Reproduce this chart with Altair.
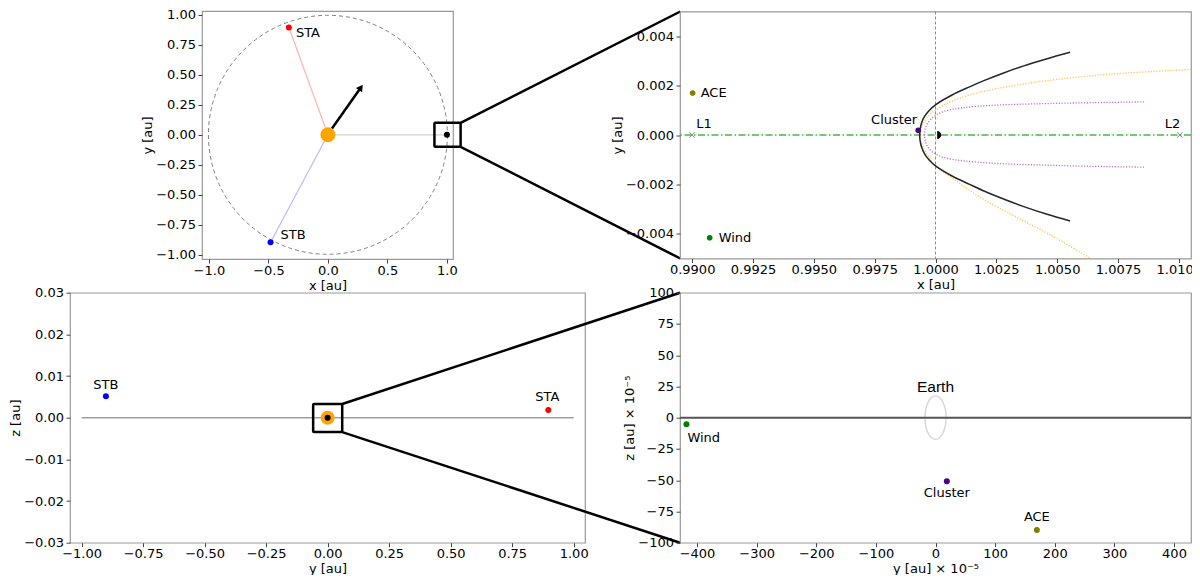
import altair as alt
import pandas as pd

MINUS = "\u2212"
FONT = "DejaVu Sans"

# ---------------- data: top-left (x-y plane, au) ----------------
sc_names = ["STA", "STB"]
sc_x = [-0.328, -0.482]
sc_y = [0.895, -0.897]
sc_colors = ["#ff0000", "#0000ff"]
sun_pos = [0.0, 0.0]
earth_pos = [1.0, 0.0]
line_colors = ["#ffb4b4", "#b9b9ff", "#d2d2d2"]
arrow_start = [0.034, 0.053]
arrow_end = [0.277, 0.395]
tl_box_x = [0.895, 1.115]
tl_box_y = [-0.100, 0.100]

# ---------------- data: top-right (near-Earth, x-y) ----------------
near_names = ["ACE", "Wind", "Cluster"]
near_x = [0.99002, 0.99072, 0.99929]
near_y = [0.00170, -0.00416, 0.00019]
near_colors = ["#808000", "#008000", "#4b0082"]
lag_names = ["L1", "L2"]
lag_x = [0.99000, 1.01004]
lag_y = [0.0, 0.0]
earth_tr = [1.00007, 0.0]

black_x = [1.00553, 1.00455, 1.00360, 1.00280, 1.00204, 1.00140, 1.00068, 1.00000, 0.99975, 0.99955,
           0.99943, 0.99937, 0.99935,
           0.99937, 0.99943, 0.99955, 0.99975, 1.00000, 1.00068, 1.00140, 1.00204, 1.00280, 1.00360,
           1.00455, 1.00553]
black_y = [0.00335, 0.00308, 0.00279, 0.00251, 0.00222, 0.00195, 0.00162, 0.00122, 0.00100, 0.00075,
           0.00050, 0.00025, 0.0,
           -0.00025, -0.00050, -0.00076, -0.00102, -0.00125, -0.00166, -0.00200, -0.00229, -0.00259, -0.00289,
           -0.00320, -0.00348]
orange_x = [1.01050, 1.00800, 1.00600, 1.00400, 1.00200, 1.00070, 1.00000, 0.99965, 0.99948, 0.99940, 0.99937,
            0.99940, 0.99948, 0.99965, 1.00000, 1.00088, 1.00200, 1.00360, 1.00500, 1.00639, 1.00680]
orange_y = [0.00265, 0.00252, 0.00236, 0.00212, 0.00177, 0.00138, 0.00100, 0.00070, 0.00045, 0.00022, 0.0,
            -0.00024, -0.00048, -0.00078, -0.00124, -0.00188, -0.00262, -0.00346, -0.00420, -0.00500, -0.00520]
purple_x = [1.00857, 1.00650, 1.00450, 1.00250, 1.00110, 1.00030, 0.99990, 0.99968, 0.99958, 0.99955,
            0.99958, 0.99968, 0.99990, 1.00030, 1.00110, 1.00250, 1.00450, 1.00650, 1.00857]
purple_y = [0.00134, 0.00131, 0.00127, 0.00121, 0.00110, 0.00094, 0.00072, 0.00048, 0.00024, 0.0,
            -0.00024, -0.00048, -0.00070, -0.00090, -0.00104, -0.00115, -0.00122, -0.00127, -0.00130]

# ---------------- data: bottom-left (y-z plane, au) ----------------
bl_sc_names = ["STB", "STA"]
bl_sc_y = [-0.901, 0.897]
bl_sc_z = [0.00514, 0.00185]
bl_sc_colors = ["#0000ff", "#ff0000"]
ecliptic_y = [-1.0, 1.0]
bl_box_y = [-0.0588, 0.0593]
bl_box_z = [-0.00346, 0.00329]

# ---------------- data: bottom-right (y-z, 1e-5 au) ----------------
br_names = ["Wind", "Cluster", "ACE"]
br_y = [-417.7, 19.0, 170.0]
br_z = [-5.3, -50.9, -89.8]
br_colors = ["#008000", "#4b0082", "#808000"]


def lab(fmt, minus=True):
    if minus:
        return f"replace(format(datum.value, '{fmt}'), '-', '{MINUS}')"
    return f"format(datum.value, '{fmt}')"


def ax(title, values, expr):
    return alt.Axis(title=title, values=values, labelExpr=expr)


def text_layer(df, xf, yf, X, Y, text, align, dx, dy, size=13, font=FONT):
    return alt.Chart(df).mark_text(align=align, baseline="middle", dx=dx, dy=dy,
                                   fontSize=size, font=font, color="black").encode(
        x=X(xf), y=Y(yf), text=alt.value(text))


# ===================== TOP-LEFT =====================
sx1 = alt.Scale(domain=[-1.058, 1.051], nice=False, zero=False)
sy1 = alt.Scale(domain=[-1.036, 1.033], nice=False, zero=False)
ax1x = ax("x [au]", [-1, -0.5, 0, 0.5, 1], lab(".1f"))
ax1y = ax("y [au]", [-1, -0.75, -0.5, -0.25, 0, 0.25, 0.5, 0.75, 1], lab(".2f"))
X1 = lambda f: alt.X(f"{f}:Q", scale=sx1, axis=ax1x)
Y1 = lambda f: alt.Y(f"{f}:Q", scale=sy1, axis=ax1y)

sun_df = pd.DataFrame({"x": [sun_pos[0]], "y": [sun_pos[1]]})
earth_df = pd.DataFrame({"x": [earth_pos[0]], "y": [earth_pos[1]]})
sc_df = pd.DataFrame({"name": sc_names, "x": sc_x, "y": sc_y, "c": sc_colors})
rays_df = pd.DataFrame({"x0": [sun_pos[0]] * 3, "y0": [sun_pos[1]] * 3,
                        "x": sc_x + [earth_pos[0]], "y": sc_y + [earth_pos[1]],
                        "c": line_colors})
arrow_df = pd.DataFrame({"x0": [arrow_start[0]], "y0": [arrow_start[1]],
                         "x": [arrow_end[0]], "y": [arrow_end[1]]})
box1_df = pd.DataFrame({"x0": [tl_box_x[0]], "x1": [tl_box_x[1]],
                        "y0": [tl_box_y[0]], "y1": [tl_box_y[1]]})
conn1_df = pd.DataFrame({"x": [tl_box_x[1]], "yt": [tl_box_y[1]], "yb": [tl_box_y[0]]})

tl_layers = [
    alt.Chart(sun_df).mark_point(shape="circle", size=57121, filled=False, color="#808080",
                                 strokeWidth=1, strokeDash=[4, 3], opacity=1).encode(x=X1("x"), y=Y1("y")),
    alt.Chart(rays_df).mark_rule(strokeWidth=1.2).encode(
        x=X1("x0"), y=Y1("y0"), x2=alt.X2("x:Q"), y2=alt.Y2("y:Q"), color=alt.Color("c:N", scale=None)),
    alt.Chart(arrow_df).mark_rule(strokeWidth=2.5, color="black").encode(
        x=X1("x0"), y=Y1("y0"), x2=alt.X2("x:Q"), y2=alt.Y2("y:Q")),
    alt.Chart(arrow_df).mark_point(shape="triangle-up", angle=35, filled=True, size=55,
                                   color="black", opacity=1).encode(x=X1("x"), y=Y1("y")),
    alt.Chart(sun_df).mark_circle(size=225, color="#ffa500", opacity=1).encode(x=X1("x"), y=Y1("y")),
    alt.Chart(earth_df).mark_circle(size=36, color="black", opacity=1).encode(x=X1("x"), y=Y1("y")),
    alt.Chart(sc_df).mark_circle(size=36, opacity=1).encode(
        x=X1("x"), y=Y1("y"), color=alt.Color("c:N", scale=None)),
    text_layer(sc_df.iloc[[0]], "x", "y", X1, Y1, sc_names[0], "left", 7, 5),
    text_layer(sc_df.iloc[[1]], "x", "y", X1, Y1, sc_names[1], "left", 10, -7),
    alt.Chart(box1_df).mark_rect(fillOpacity=0, stroke="black", strokeWidth=2.5, cornerRadius=1).encode(
        x=X1("x0"), x2=alt.X2("x1:Q"), y=Y1("y0"), y2=alt.Y2("y1:Q")),
    alt.Chart(conn1_df).mark_rule(strokeWidth=2.5, color="black").encode(
        x=X1("x"), y=Y1("yt"), x2=alt.value(478.3), y2=alt.value(0.5)),
    alt.Chart(conn1_df).mark_rule(strokeWidth=2.5, color="black").encode(
        x=X1("x"), y=Y1("yb"), x2=alt.value(478.3), y2=alt.value(247.5)),
]
tl = alt.layer(*tl_layers).properties(width=251, height=248)

# ===================== TOP-RIGHT =====================
W_RIGHT = 511
sx2 = alt.Scale(domain=[0.9895, 1.0105], nice=False, zero=False)
sy2 = alt.Scale(domain=[-0.005, 0.005], nice=False, zero=False)
ax2x = ax("x [au]", [0.99, 0.9925, 0.995, 0.9975, 1.0, 1.0025, 1.005, 1.0075, 1.01], lab(".4f"))
ax2y = ax("y [au]", [-0.004, -0.002, 0, 0.002, 0.004], lab(".3f"))
X2 = lambda f: alt.X(f"{f}:Q", scale=sx2, axis=ax2x)
Y2 = lambda f: alt.Y(f"{f}:Q", scale=sy2, axis=ax2y)


def curve_df(xs, ys):
    return pd.DataFrame({"x": xs, "y": ys, "i": list(range(len(xs)))})


near_df = pd.DataFrame({"name": near_names, "x": near_x, "y": near_y, "c": near_colors})
lag_df = pd.DataFrame({"name": lag_names, "x": lag_x, "y": lag_y})
vline_df = pd.DataFrame({"x": [earth_pos[0]]})
hline_df = pd.DataFrame({"y": [0.0]})
earth2_df = pd.DataFrame({"x": [earth_tr[0]], "y": [earth_tr[1]]})

tr_layers = [
    alt.Chart(vline_df).mark_rule(color="#8c8c8c", strokeWidth=1, strokeDash=[3, 2]).encode(x=X2("x")),
    alt.Chart(hline_df).mark_rule(color="#44bb44", strokeWidth=1.4, strokeDash=[7, 2.5, 1.5, 2.5]).encode(y=Y2("y")),
    alt.Chart(curve_df(orange_x, orange_y)).mark_line(color="#ffb830", strokeWidth=1.3, strokeDash=[1.2, 1.6],
                                                      opacity=0.85, clip=True, interpolate="catmull-rom").encode(
        x=X2("x"), y=Y2("y"), order="i:Q"),
    alt.Chart(curve_df(purple_x, purple_y)).mark_line(color="#c070c8", strokeWidth=1.3, strokeDash=[1.2, 1.6],
                                                      clip=True, interpolate="catmull-rom").encode(
        x=X2("x"), y=Y2("y"), order="i:Q"),
    alt.Chart(curve_df(black_x, black_y)).mark_line(color="#262626", strokeWidth=1.5, clip=True,
                                                    interpolate="catmull-rom").encode(
        x=X2("x"), y=Y2("y"), order="i:Q"),
    alt.Chart(lag_df).mark_point(shape="M-1,-1L1,1M-1,1L1,-1", size=30, filled=False, color="#808080",
                                 strokeWidth=1, opacity=1).encode(x=X2("x"), y=Y2("y")),
    alt.Chart(earth2_df).mark_point(shape="M0,-1A1,1 0 0,1 0,1Z", size=64, filled=True, color="black",
                                    opacity=1).encode(x=X2("x"), y=Y2("y")),
    alt.Chart(near_df).mark_circle(size=32, opacity=1).encode(
        x=X2("x"), y=Y2("y"), color=alt.Color("c:N", scale=None)),
    text_layer(near_df.iloc[[0]], "x", "y", X2, Y2, near_names[0], "left", 8, 0),
    text_layer(near_df.iloc[[1]], "x", "y", X2, Y2, near_names[1], "left", 9, 0),
    text_layer(near_df.iloc[[2]], "x", "y", X2, Y2, near_names[2], "right", -1, -10),
    text_layer(lag_df.iloc[[0]], "x", "y", X2, Y2, lag_names[0], "left", 4, -11),
    text_layer(lag_df.iloc[[1]], "x", "y", X2, Y2, lag_names[1], "left", -15, -11),
]
tr = alt.layer(*tr_layers).properties(width=W_RIGHT, height=247)

# ===================== BOTTOM-LEFT =====================
sx3 = alt.Scale(domain=[-1.047, 1.046], nice=False, zero=False)
sy3 = alt.Scale(domain=[-0.03, 0.03], nice=False, zero=False)
ax3x = ax("y [au]", [-1, -0.75, -0.5, -0.25, 0, 0.25, 0.5, 0.75, 1], lab(".2f"))
ax3y = ax("z [au]", [-0.03, -0.02, -0.01, 0, 0.01, 0.02, 0.03], lab(".2f"))
X3 = lambda f: alt.X(f"{f}:Q", scale=sx3, axis=ax3x)
Y3 = lambda f: alt.Y(f"{f}:Q", scale=sy3, axis=ax3y)

bl_sc_df = pd.DataFrame({"name": bl_sc_names, "x": bl_sc_y, "y": bl_sc_z, "c": bl_sc_colors})
ecl_df = pd.DataFrame({"x0": [ecliptic_y[0]], "x1": [ecliptic_y[1]], "y": [0.0]})
sun3_df = pd.DataFrame({"x": [0.0], "y": [0.0]})
box3_df = pd.DataFrame({"x0": [bl_box_y[0]], "x1": [bl_box_y[1]], "y0": [bl_box_z[0]], "y1": [bl_box_z[1]]})
conn3_df = pd.DataFrame({"x": [bl_box_y[1]], "yt": [bl_box_z[1]], "yb": [bl_box_z[0]]})

bl_layers = [
    alt.Chart(ecl_df).mark_rule(color="#a0a0a0", strokeWidth=1.5).encode(
        x=X3("x0"), x2=alt.X2("x1:Q"), y=Y3("y")),
    alt.Chart(sun3_df).mark_circle(size=196, color="#ffa500", opacity=1).encode(x=X3("x"), y=Y3("y")),
    alt.Chart(sun3_df).mark_circle(size=36, color="black", opacity=1).encode(x=X3("x"), y=Y3("y")),
    alt.Chart(bl_sc_df).mark_circle(size=36, opacity=1).encode(
        x=X3("x"), y=Y3("y"), color=alt.Color("c:N", scale=None)),
    text_layer(bl_sc_df.iloc[[0]], "x", "y", X3, Y3, bl_sc_names[0], "center", 0, -11),
    text_layer(bl_sc_df.iloc[[1]], "x", "y", X3, Y3, bl_sc_names[1], "center", -1, -13),
    alt.Chart(box3_df).mark_rect(fillOpacity=0, stroke="black", strokeWidth=2.5, cornerRadius=1).encode(
        x=X3("x0"), x2=alt.X2("x1:Q"), y=Y3("y0"), y2=alt.Y2("y1:Q")),
    alt.Chart(conn3_df).mark_rule(strokeWidth=2.5, color="black").encode(
        x=X3("x"), y=Y3("yt"), x2=alt.value(610), y2=alt.value(0)),
    alt.Chart(conn3_df).mark_rule(strokeWidth=2.5, color="black").encode(
        x=X3("x"), y=Y3("yb"), x2=alt.value(610), y2=alt.value(250)),
]
bl = alt.layer(*bl_layers).properties(width=515, height=250)

# ===================== BOTTOM-RIGHT =====================
sx4 = alt.Scale(domain=[-428.5, 428.5], nice=False, zero=False)
sy4 = alt.Scale(domain=[-100, 100], nice=False, zero=False)
ax4x = ax("y [au] \u00d7 10\u207b\u2075", [-400, -300, -200, -100, 0, 100, 200, 300, 400], lab("d", False))
ax4y = ax("z [au] \u00d7 10\u207b\u2075", [-100, -75, -50, -25, 0, 25, 50, 75, 100], lab("d", False))
X4 = lambda f: alt.X(f"{f}:Q", scale=sx4, axis=ax4x)
Y4 = lambda f: alt.Y(f"{f}:Q", scale=sy4, axis=ax4y)

br_df = pd.DataFrame({"name": br_names, "x": br_y, "y": br_z, "c": br_colors})
zero_df = pd.DataFrame({"y": [0.0]})
earth4_df = pd.DataFrame({"x": [0.0], "y": [0.0]})

br_layers = [
    alt.Chart(earth4_df).mark_point(shape="M0,-1A0.488,1 0 1,1 0,1A0.488,1 0 1,1 0,-1Z", size=1875,
                                    filled=False, color="#d8d8d8", strokeWidth=1.5, opacity=1).encode(
        x=X4("x"), y=Y4("y")),
    alt.Chart(zero_df).mark_rule(color="#555555", strokeWidth=2).encode(y=Y4("y")),
    alt.Chart(br_df).mark_circle(size=36, opacity=1).encode(
        x=X4("x"), y=Y4("y"), color=alt.Color("c:N", scale=None)),
    text_layer(br_df.iloc[[0]], "x", "y", X4, Y4, br_names[0], "left", 1, 14),
    text_layer(br_df.iloc[[1]], "x", "y", X4, Y4, br_names[1], "center", 0, 12),
    text_layer(br_df.iloc[[2]], "x", "y", X4, Y4, br_names[2], "center", 0, -13),
    text_layer(earth4_df, "x", "y", X4, Y4, "Earth", "center", 0, -31, size=15.5, font="Liberation Sans"),
]
br = alt.layer(*br_layers).properties(width=W_RIGHT, height=250)

# ===================== LAYOUT =====================
chart = alt.concat(
    tl, tr, bl, br, columns=2, spacing={"row": 33.7, "column": 95}, bounds="flush", center=True
).properties(
    padding={"left": 1, "top": 0, "right": -11, "bottom": -2}
).configure_view(
    stroke="#999999", strokeWidth=1.2
).configure_axis(
    grid=False, domain=False, tickColor="#444444", tickSize=4, tickWidth=1,
    labelFont=FONT, labelFontSize=13, labelColor="black",
    titleFont=FONT, titleFontSize=13, titleFontWeight="normal", titleColor="black",
    labelFlush=False, labelOverlap=False
).configure_axisX(labelPadding=1, titlePadding=2).configure_axisY(labelPadding=2.5, titlePadding=1)

chart.save("out.html", embed_options={"renderer": "svg", "actions": False})
